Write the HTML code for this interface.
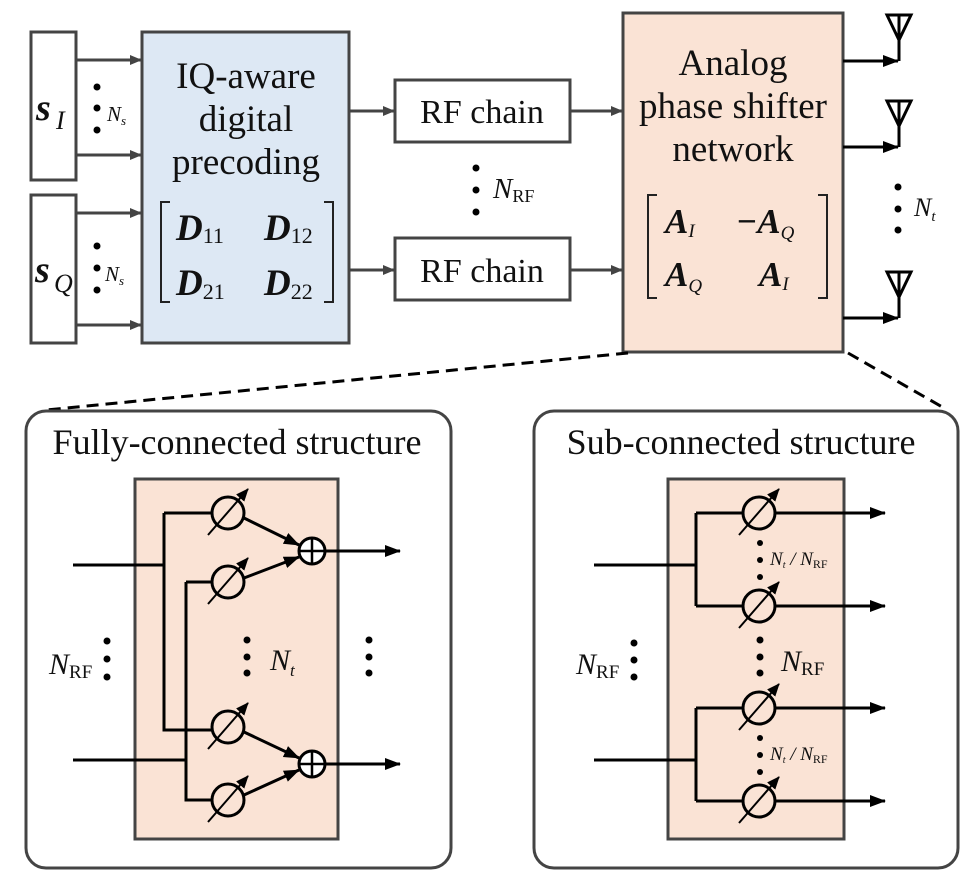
<!DOCTYPE html>
<html><head><meta charset="utf-8"><style>
html,body{margin:0;padding:0;background:#fff}
text{font-family:"Liberation Serif","Times New Roman",serif;fill:#111}
</style></head><body>
<svg width="969" height="891" viewBox="0 0 969 891" xmlns="http://www.w3.org/2000/svg">
<defs>
<marker id="ag" markerWidth="12" markerHeight="12" refX="11" refY="6" orient="auto" markerUnits="userSpaceOnUse"><path d="M0,1 L12,6 L0,11 Z" fill="#444"/></marker>
<marker id="ak" markerWidth="16" markerHeight="14" refX="15" refY="7" orient="auto" markerUnits="userSpaceOnUse"><path d="M0,1 L16,7 L0,13 Z" fill="#000"/></marker>
<marker id="as" markerWidth="13" markerHeight="13" refX="12" refY="6.5" orient="auto" markerUnits="userSpaceOnUse"><path d="M0,1 L13,6.5 L0,12 Z" fill="#000"/></marker>
<g id="ps">
<circle cx="0" cy="0" r="16" fill="none" stroke="#000" stroke-width="3"/>
<line x1="-20" y1="22" x2="20" y2="-24" stroke="#000" stroke-width="2" marker-end="url(#as)"/>
</g>
<g id="add">
<circle cx="0" cy="0" r="13" fill="#fff" stroke="#000" stroke-width="3"/>
<line x1="-13" y1="0" x2="13" y2="0" stroke="#000" stroke-width="2.5"/>
<line x1="0" y1="-13" x2="0" y2="13" stroke="#000" stroke-width="2.5"/>
</g>
<g id="ant">
<path d="M-12,0 L12,0 L0,25 Z M0,0 L0,46" fill="none" stroke="#000" stroke-width="3"/>
</g>
</defs>

<g stroke="#444" stroke-width="3" fill="#fff">
<rect x="31" y="32" width="45" height="148"/>
<rect x="31" y="195" width="45" height="148"/>
<rect x="142" y="32" width="207" height="311" fill="#dde8f4"/>
<rect x="395" y="80" width="175" height="62"/>
<rect x="395" y="238" width="175" height="62"/>
<rect x="623" y="13" width="220" height="339" fill="#fae3d5"/>
</g>
<g stroke="#444" stroke-width="3">
<line x1="76" y1="60" x2="141" y2="60" marker-end="url(#ag)"/>
<line x1="76" y1="155" x2="141" y2="155" marker-end="url(#ag)"/>
<line x1="76" y1="213" x2="141" y2="213" marker-end="url(#ag)"/>
<line x1="76" y1="325" x2="141" y2="325" marker-end="url(#ag)"/>
<line x1="349" y1="111" x2="394" y2="111" marker-end="url(#ag)"/>
<line x1="349" y1="270" x2="394" y2="270" marker-end="url(#ag)"/>
<line x1="570" y1="111" x2="622" y2="111" marker-end="url(#ag)"/>
<line x1="570" y1="270" x2="622" y2="270" marker-end="url(#ag)"/>
</g>
<g stroke="#000" stroke-width="3">
<line x1="843" y1="61" x2="898" y2="61" marker-end="url(#ak)"/>
<line x1="843" y1="147" x2="898" y2="147" marker-end="url(#ak)"/>
<line x1="843" y1="318" x2="898" y2="318" marker-end="url(#ak)"/>
</g>
<use href="#ant" x="899" y="15"/>
<use href="#ant" x="899" y="101"/>
<use href="#ant" x="899" y="272"/>
<g fill="#000">
<circle cx="97" cy="87" r="3.5"/><circle cx="97" cy="108" r="3.5"/><circle cx="97" cy="130" r="3.5"/>
<circle cx="97" cy="246" r="3.5"/><circle cx="97" cy="268" r="3.5"/><circle cx="97" cy="290" r="3.5"/>
<circle cx="476" cy="168" r="3.5"/><circle cx="476" cy="190" r="3.5"/><circle cx="476" cy="212" r="3.5"/>
<circle cx="898" cy="187" r="3.5"/><circle cx="898" cy="209" r="3.5"/><circle cx="898" cy="230" r="3.5"/>
</g>
<text x="36" y="120" font-size="38" font-weight="bold" font-style="italic">s</text><text x="56" y="129" font-size="26" font-style="italic">I</text>
<text x="35" y="282" font-size="38" font-weight="bold" font-style="italic">s</text><text x="54" y="292" font-size="26" font-style="italic">Q</text>
<text x="107" y="121" font-size="21" font-style="italic">N<tspan font-size="13" dy="4">s</tspan></text>
<text x="105" y="281" font-size="21" font-style="italic">N<tspan font-size="13" dy="4">s</tspan></text>
<text x="246" y="88" font-size="37" text-anchor="middle">IQ-aware</text>
<text x="246" y="131" font-size="37" text-anchor="middle">digital</text>
<text x="246" y="174" font-size="37" text-anchor="middle">precoding</text>
<path d="M170,202 L161,202 L161,302 L170,302 M324,202 L333,202 L333,302 L324,302" fill="none" stroke="#222" stroke-width="2"/>
<text x="176" y="240" font-size="37" font-weight="bold" font-style="italic">D<tspan font-size="22" font-weight="normal" font-style="normal" dy="3">11</tspan></text>
<text x="264" y="240" font-size="37" font-weight="bold" font-style="italic">D<tspan font-size="22" font-weight="normal" font-style="normal" dy="3">12</tspan></text>
<text x="176" y="295" font-size="37" font-weight="bold" font-style="italic">D<tspan font-size="22" font-weight="normal" font-style="normal" dy="4">21</tspan></text>
<text x="264" y="295" font-size="37" font-weight="bold" font-style="italic">D<tspan font-size="22" font-weight="normal" font-style="normal" dy="4">22</tspan></text>
<text x="482" y="123" font-size="34" text-anchor="middle">RF chain</text>
<text x="482" y="282" font-size="34" text-anchor="middle">RF chain</text>
<text x="493" y="198" font-size="29" font-style="italic">N<tspan font-size="18" font-style="normal" dy="4">RF</tspan></text>
<text x="733" y="75" font-size="37" text-anchor="middle">Analog</text>
<text x="733" y="118" font-size="37" text-anchor="middle">phase shifter</text>
<text x="733" y="161" font-size="37" text-anchor="middle">network</text>
<path d="M657,195 L648,195 L648,298 L657,298 M818,195 L827,195 L827,298 L818,298" fill="none" stroke="#222" stroke-width="2"/>
<text x="665" y="233" font-size="35" font-weight="bold" font-style="italic">A<tspan font-size="19" font-weight="normal" dy="4">I</tspan></text>
<text x="736" y="233" font-size="35" font-weight="bold" font-style="italic">−A<tspan font-size="19" font-weight="normal" dy="6">Q</tspan></text>
<text x="665" y="286" font-size="35" font-weight="bold" font-style="italic">A<tspan font-size="19" font-weight="normal" dy="6">Q</tspan></text>
<text x="759" y="286" font-size="35" font-weight="bold" font-style="italic">A<tspan font-size="19" font-weight="normal" dy="4">I</tspan></text>
<text x="914" y="216" font-size="26" font-style="italic">N<tspan font-size="15" dy="5">t</tspan></text>

<g stroke="#000" stroke-width="3" stroke-dasharray="12,7">
<line x1="628" y1="353" x2="46" y2="410"/>
<line x1="848" y1="353" x2="944" y2="408"/>
</g>

<rect x="26" y="411" width="425" height="457" rx="20" fill="#fff" stroke="#444" stroke-width="3"/>
<rect x="534" y="411" width="424" height="457" rx="20" fill="#fff" stroke="#444" stroke-width="3"/>
<text x="237" y="454" font-size="36" text-anchor="middle">Fully-connected structure</text>
<text x="741" y="454" font-size="36" text-anchor="middle">Sub-connected structure</text>

<rect x="135" y="479" width="203" height="360" fill="#fae3d5" stroke="#444" stroke-width="3"/>
<g stroke="#000" stroke-width="3" fill="none">
<path d="M73,565 L164,565 M164,513 L164,730 L212,730 M164,513 L212,513"/>
<path d="M73,760 L186,760 M186,582 L186,800 L212,800 M186,582 L212,582"/>
<line x1="244" y1="518" x2="299" y2="545" marker-end="url(#ak)"/>
<line x1="244" y1="578" x2="299" y2="557" marker-end="url(#ak)"/>
<line x1="244" y1="732" x2="299" y2="758" marker-end="url(#ak)"/>
<line x1="244" y1="795" x2="299" y2="770" marker-end="url(#ak)"/>
<line x1="325" y1="551" x2="400" y2="551" marker-end="url(#ak)"/>
<line x1="325" y1="764" x2="400" y2="764" marker-end="url(#ak)"/>
</g>
<use href="#ps" x="228" y="513"/><use href="#ps" x="228" y="582"/>
<use href="#ps" x="228" y="727"/><use href="#ps" x="228" y="800"/>
<use href="#add" x="312" y="551"/><use href="#add" x="312" y="764"/>
<g fill="#000">
<circle cx="107" cy="641" r="3.5"/><circle cx="107" cy="659" r="3.5"/><circle cx="107" cy="677" r="3.5"/>
<circle cx="247" cy="640" r="3.5"/><circle cx="247" cy="657" r="3.5"/><circle cx="247" cy="673" r="3.5"/>
<circle cx="369" cy="640" r="3.5"/><circle cx="369" cy="657" r="3.5"/><circle cx="369" cy="673" r="3.5"/>
</g>
<text x="49" y="674" font-size="30" font-style="italic">N<tspan font-size="19" font-style="normal" dy="4">RF</tspan></text>
<text x="270" y="670" font-size="30" font-style="italic">N<tspan font-size="17" dy="6">t</tspan></text>

<rect x="668" y="479" width="176" height="360" fill="#fae3d5" stroke="#444" stroke-width="3"/>
<g stroke="#000" stroke-width="3" fill="none">
<path d="M594,565 L696,565 M696,513 L696,606 M696,513 L743,513 M696,606 L743,606"/>
<path d="M594,760 L696,760 M696,708 L696,801 M696,708 L743,708 M696,801 L743,801"/>
<line x1="775" y1="513" x2="885" y2="513" marker-end="url(#ak)"/>
<line x1="775" y1="606" x2="885" y2="606" marker-end="url(#ak)"/>
<line x1="775" y1="708" x2="885" y2="708" marker-end="url(#ak)"/>
<line x1="775" y1="801" x2="885" y2="801" marker-end="url(#ak)"/>
</g>
<use href="#ps" x="759" y="513"/><use href="#ps" x="759" y="606"/>
<use href="#ps" x="759" y="708"/><use href="#ps" x="759" y="801"/>
<g fill="#000">
<circle cx="760" cy="543" r="3"/><circle cx="760" cy="560" r="3"/><circle cx="760" cy="577" r="3"/>
<circle cx="760" cy="640" r="3.5"/><circle cx="760" cy="657" r="3.5"/><circle cx="760" cy="673" r="3.5"/>
<circle cx="760" cy="738" r="3"/><circle cx="760" cy="755" r="3"/><circle cx="760" cy="772" r="3"/>
<circle cx="634" cy="643" r="3.5"/><circle cx="634" cy="660" r="3.5"/><circle cx="634" cy="677" r="3.5"/>
</g>
<text x="576" y="674" font-size="30" font-style="italic">N<tspan font-size="19" font-style="normal" dy="4">RF</tspan></text>
<text x="781" y="671" font-size="30" font-style="italic">N<tspan font-size="19" font-style="normal" dy="4">RF</tspan></text>
<text x="770" y="565" font-size="19" font-style="italic">N<tspan font-size="10" dy="3">t</tspan><tspan dy="-3"> / N</tspan><tspan font-size="12" font-style="normal" dy="3">RF</tspan></text>
<text x="770" y="760" font-size="19" font-style="italic">N<tspan font-size="10" dy="3">t</tspan><tspan dy="-3"> / N</tspan><tspan font-size="12" font-style="normal" dy="3">RF</tspan></text>
</svg>
</body></html>
